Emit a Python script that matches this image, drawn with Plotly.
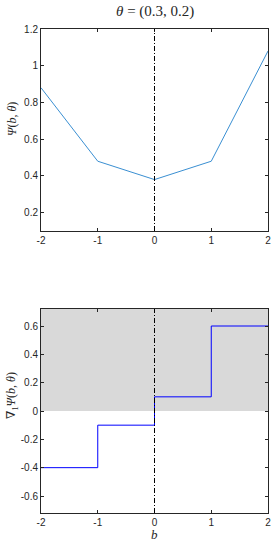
import plotly.graph_objects as go

# Data
b_vals = [-2, -1, 0, 1, 2]
psi_vals = [0.88, 0.48, 0.38, 0.48, 1.08]
grad_b = [-2, -1, 0, 1, 2]
grad_vals = [-0.4, -0.1, 0.1, 0.6, 0.6]
x_ticks = [-2, -1, 0, 1, 2]
top_yticks = [0.2, 0.4, 0.6, 0.8, 1.0, 1.2]
top_yticklabels = ["0.2", "0.4", "0.6", "0.8", "1", "1.2"]
bot_yticks = [-0.6, -0.4, -0.2, 0, 0.2, 0.4, 0.6]
bot_yticklabels = ["-0.6", "-0.4", "-0.2", "0", "0.2", "0.4", "0.6"]

W, H = 273, 545
L, R, T, B = 41, 5, 29, 32
plot_h = H - T - B
plot_w = W - L - R

def px_x(px):
    return (px - L) / plot_w

def px_y(py):
    return (H - B - py) / plot_h

fig = go.Figure()

fig.add_trace(go.Scatter(x=b_vals, y=psi_vals, mode="lines",
                         line=dict(color="#3a8fd2", width=1),
                         xaxis="x", yaxis="y", showlegend=False, hoverinfo="skip"))
fig.add_trace(go.Scatter(x=grad_b, y=grad_vals, mode="lines",
                         line=dict(color="#0000ff", width=1, shape="hv"),
                         xaxis="x2", yaxis="y2", showlegend=False, hoverinfo="skip"))

axis_common = dict(showgrid=False, zeroline=False, showline=True, linecolor="#262626",
                   linewidth=1, mirror="ticks", ticks="inside", ticklen=3,
                   tickcolor="#262626", ticklabeloverflow="allow", automargin=False,
                   tickfont=dict(family="Liberation Sans, Arial", size=10, color="#262626"))

xr = [-2.000001, 2.000001]
serif = "Liberation Serif, DejaVu Serif"
dash_pat = "5px,2px,1px,2px"

fig.update_layout(
    template="none",
    width=W, height=H,
    margin=dict(l=L, r=R, t=T, b=B, pad=0),
    paper_bgcolor="white", plot_bgcolor="white",
    xaxis=dict(domain=[0, 1], anchor="y", range=xr, tickvals=x_ticks,
               ticktext=[str(v) for v in x_ticks], **axis_common),
    yaxis=dict(domain=[px_y(231), 1], anchor="x", range=[0.1, 1.2], tickvals=top_yticks,
               ticktext=top_yticklabels, **axis_common),
    xaxis2=dict(domain=[0, 1], anchor="y2", range=xr, tickvals=x_ticks,
                ticktext=[str(v) for v in x_ticks], **axis_common),
    yaxis2=dict(domain=[0, px_y(309)], anchor="x2", range=[-0.72, 0.72], tickvals=bot_yticks,
                ticktext=bot_yticklabels, **axis_common),
    shapes=[
        dict(type="rect", xref="x2", yref="y2", x0=-2, x1=2, y0=0, y1=0.72,
             fillcolor="#d9d9d9", line=dict(width=0), layer="below"),
        dict(type="line", xref="x", yref="y", x0=0, x1=0, y0=0.1, y1=1.2,
             line=dict(color="black", width=1, dash=dash_pat)),
        dict(type="line", xref="x2", yref="y2", x0=0, x1=0, y0=-0.72, y1=0.72,
             line=dict(color="black", width=1, dash=dash_pat)),
    ],
    annotations=[
        dict(text="<i>θ</i> = (0.3, 0.2)", xref="paper", yref="paper", x=0.5, y=px_y(12),
             xanchor="center", yanchor="middle", showarrow=False,
             font=dict(family=serif, size=15, color="#262626")),
        dict(text="<i>Ψ</i>(<i>b</i>, <i>θ</i>)", xref="paper", yref="paper", x=px_x(12), y=px_y(119),
             xanchor="center", yanchor="middle", showarrow=False, textangle=-90,
             font=dict(family=serif, size=12, color="#262626")),
        dict(text="∇<sub>1</sub><i>Ψ</i>(<i>b</i>, <i>θ</i>)", xref="paper", yref="paper",
             x=px_x(12), y=px_y(396),
             xanchor="center", yanchor="middle", showarrow=False, textangle=-90,
             font=dict(family=serif, size=12, color="#262626")),
        dict(text="<i>b</i>", xref="paper", yref="paper", x=0.5, y=px_y(534),
             xanchor="center", yanchor="middle", showarrow=False,
             font=dict(family=serif, size=13, color="#262626")),
    ],
)

fig.write_html("out.html", config={"displayModeBar": False, "responsive": False},
               post_script="document.body.style.margin='0';document.body.style.padding='0';")
